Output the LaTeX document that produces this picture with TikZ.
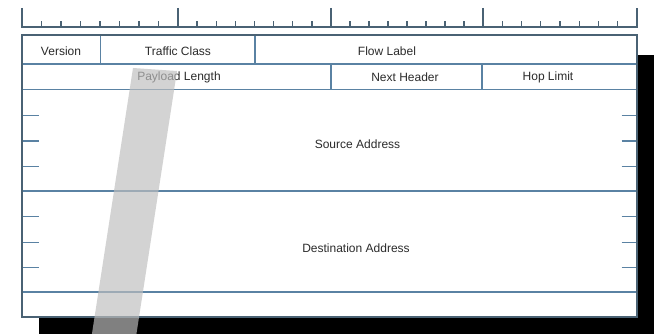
\documentclass[tikz,border=0pt]{standalone}
\usepackage{fontspec}
\setmainfont{Liberation Sans}
\definecolor{edgec}{HTML}{4A6274}
\definecolor{linec}{HTML}{5A82A3}
\definecolor{txtc}{HTML}{2B2B2B}
\definecolor{bandc}{RGB}{190,190,190}
\begin{document}
\begin{tikzpicture}[x=1pt,y=-1pt,
  rule/.style={draw=edgec, line width=1.4pt},
  inner/.style={draw=linec, line width=1.3pt},
  lbl/.style={font=\fontsize{12}{14}\selectfont, text=txtc, inner sep=0pt}]
\useasboundingbox (0,0) rectangle (658,334);
\begin{scope}
\clip (0,0) rectangle (658,334);
% shadow
\fill[black] (39,55) rectangle (654,340);
% main box
\filldraw[fill=white, rule] (22,35) rectangle (637,317);
% row lines
\draw[inner] (22,64) -- (637,64);
\draw[inner] (22,89.5) -- (637,89.5);
\draw[inner] (22,191) -- (637,191);
\draw[inner] (22,292) -- (637,292);
\draw[inner] (100.7,35) -- (100.7,64);
\draw[inner] (255,35) -- (255,64);
\draw[inner] (331,64) -- (331,89.5);
\draw[inner] (482,64) -- (482,89.5);
% side ticks
\foreach \y in {115.7,141,166.3,216.7,242.3,267.3} {
  \draw[inner] (22,\y) -- (39,\y);
  \draw[inner] (621.7,\y) -- (637,\y);
}
% redraw border on top
\draw[rule] (22,35) rectangle (637,317);
% ruler
\draw[rule, line cap=butt] (22,8) -- (22,27) -- (637,27) -- (637,8);
\foreach \x in {178,331,483} { \draw[rule] (\x,8) -- (\x,27); }
\foreach \a/\b in {22/178,178/331,331/483,483/637} {
  \foreach \k in {1,...,7} {
    \draw[rule] ({\a+\k*(\b-\a)/8},21.5) -- ({\a+\k*(\b-\a)/8},27);
  }
}
% labels
\node[lbl] (ver) at (61,51) {Version};
\node[lbl] (tc) at (178,51) {Traffic Class};
\node[lbl] (fl) at (387,51) {Flow Label};
\node[lbl] (pl) at (179,77) {Payload Length};
\node[lbl] (nh) at (405,77) {Next Header};
\node[lbl] (hl) at (548,77) {Hop Limit};
\node[lbl] (src) at (357.5,144) {Source Address};
\node[lbl] (dst) at (356,248) {Destination Address};
% translucent band
\fill[bandc, fill opacity=0.675] (133,68) -- (177,71) -- (135.5,340) -- (91,340) -- cycle;
\end{scope}
\end{tikzpicture}
\end{document}
